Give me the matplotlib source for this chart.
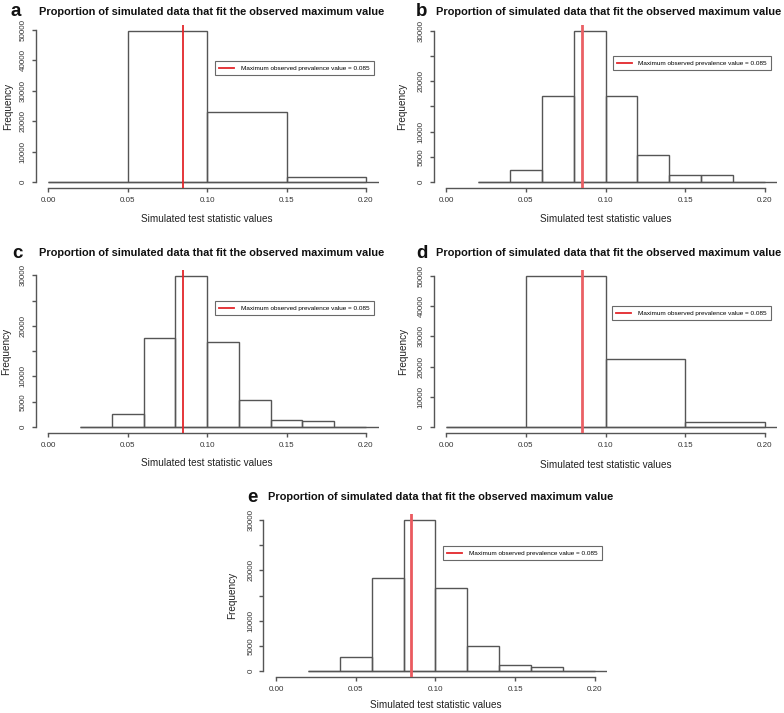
import matplotlib
matplotlib.use("Agg")
import matplotlib.pyplot as plt
import numpy as np

plt.rcParams['font.family'] = ['Liberation Sans', 'DejaVu Sans']

# ---------------- data ----------------
panel_letters = ["a", "b", "c", "d", "e"]
title_text = "Proportion of simulated data that fit the observed maximum value"
xlabel_text = "Simulated test statistic values"
ylabel_text = "Frequency"
legend_text = "Maximum observed prevalence value = 0.085"
observed_max = 0.085

edges_a = [0.00, 0.05, 0.10, 0.15, 0.20]
counts_a = [130, 49700, 23200, 1650]

edges_b = [0.02, 0.04, 0.06, 0.08, 0.10, 0.12, 0.14, 0.16, 0.18, 0.20]
counts_b = [0, 2320, 17050, 30000, 16990, 5310, 1330, 1330, 0]

edges_c = [0.02, 0.04, 0.06, 0.08, 0.10, 0.12, 0.14, 0.16, 0.18, 0.20]
counts_c = [0, 2570, 17670, 29860, 16880, 5340, 1320, 1250, 0]

edges_d = [0.00, 0.05, 0.10, 0.15, 0.20]
counts_d = [100, 50000, 22630, 1770]

edges_e = [0.02, 0.04, 0.06, 0.08, 0.10, 0.12, 0.14, 0.16, 0.18, 0.20]
counts_e = [0, 2790, 18380, 30000, 16520, 4980, 1190, 730, 0]

x_ticks = [0.00, 0.05, 0.10, 0.15, 0.20]
x_ticklabels = ["0.00", "0.05", "0.10", "0.15", "0.20"]
y_ticks_big = [0, 10000, 20000, 30000, 40000, 50000]
y_labels_big = ["0", "10000", "20000", "30000", "40000", "50000"]
y_ticks_small = [0, 5000, 10000, 15000, 20000, 25000, 30000]
y_labels_small = ["0", "5000", "10000", "", "20000", "", "30000"]

# ---------------- layout (pixels, top-left origin) ----------------
W, H = 784, 713
panels = [
    # edges, counts, yticks, ylabels, (L, R, T, B), red lw, red colour
    (edges_a, counts_a, y_ticks_big, y_labels_big, (35.6, 378.7, 25, 188), 1.3, "#e3262b"),
    (edges_b, counts_b, y_ticks_small, y_labels_small, (433.6, 777.4, 25, 188), 2.0, "#ea6065"),
    (edges_c, counts_c, y_ticks_small, y_labels_small, (35.6, 378.7, 270, 433), 1.3, "#e3262b"),
    (edges_d, counts_d, y_ticks_big, y_labels_big, (433.6, 777.4, 270, 433), 2.0, "#ea6065"),
    (edges_e, counts_e, y_ticks_small, y_labels_small, (263.3, 607.5, 514, 677), 2.0, "#ea5a5f"),
]
# letter x, title centre x, title y, ylabel x, xlabel y, legend (x, y)
text_pos = [
    (16, 212, 12, 8.5, 219.5, (215, 61)),
    (422, 609, 12, 402.5, 219.5, (612.5, 56)),
    (17, 212, 253, 6, 462.5, (215, 301)),
    (422, 609, 253, 403.5, 465, (612, 306)),
    (252, 441, 497, 232, 705, (443, 546)),
]

edge_col = "#555555"
axis_col = "#555555"

fig = plt.figure(figsize=(W / 100, H / 100), dpi=100)

for (edges, counts, yt, yl, (L, R, T, B), rlw, rcol), (lx, tx, ty, ylx, xly, (lgx, lgy)), letter in zip(panels, text_pos, panel_letters):
    ax = fig.add_axes([L / W, 1 - B / H, (R - L) / W, (B - T) / H])
    edges = np.array(edges)
    counts = np.array(counts)
    ax.bar(edges[:-1], counts, width=np.diff(edges), align="edge",
           fill=False, edgecolor=edge_col, linewidth=1.0, zorder=2)
    cmax = counts.max()
    ax.set_xlim(-0.008, 0.208)
    ax.set_ylim(-0.04 * cmax, 1.04 * cmax)
    ax.hlines(0, edges[0], 0.208, color=edge_col, linewidth=1.0, zorder=2)
    line = ax.axvline(observed_max, color=rcol, linewidth=rlw, zorder=3)

    for s in ["top", "right"]:
        ax.spines[s].set_visible(False)
    ax.spines["bottom"].set_bounds(0.0, 0.2)
    ax.spines["left"].set_bounds(0, yt[-1])
    for s in ["bottom", "left"]:
        ax.spines[s].set_color(axis_col)
        ax.spines[s].set_linewidth(1.0)
    ax.set_xticks(x_ticks)
    ax.set_xticklabels(x_ticklabels)
    ax.set_yticks(yt)
    ax.set_yticklabels(yl, rotation=90, va="center")
    ax.tick_params(axis="both", direction="out", length=3, width=1.0,
                   color=axis_col, labelsize=5.8, labelcolor="#333333")
    ax.tick_params(axis="x", pad=3.8)
    ax.tick_params(axis="y", pad=3.3)

    leg = ax.legend([line], [legend_text], loc="upper left",
                    bbox_to_anchor=(lgx / W, 1 - lgy / H),
                    bbox_transform=fig.transFigure, borderaxespad=0,
                    fontsize=4.6, frameon=True, fancybox=False,
                    handlelength=2.3, handletextpad=1.0, borderpad=0.7)
    leg.get_frame().set_edgecolor("#444444")
    leg.get_frame().set_linewidth(0.8)
    leg.get_lines()[0].set_linewidth(1.3)
    leg.get_lines()[0].set_color("#e3262b")

    fig.text(lx / W, 1 - ty / H, letter, fontsize=13.5, fontweight="bold",
             ha="center", va="center", color="#111111")
    fig.text(tx / W, 1 - ty / H, title_text, fontsize=7.95, fontweight="bold",
             ha="center", va="center", color="#111111")
    fig.text(ylx / W, 1 - ((T + B) / 2) / H, ylabel_text, fontsize=7.2,
             rotation=90, ha="center", va="center", color="#222222")
    fig.text(((L + R) / 2) / W, 1 - xly / H, xlabel_text, fontsize=7.2,
             ha="center", va="center", color="#222222")

fig.savefig("out.png", dpi=100, facecolor="white")
